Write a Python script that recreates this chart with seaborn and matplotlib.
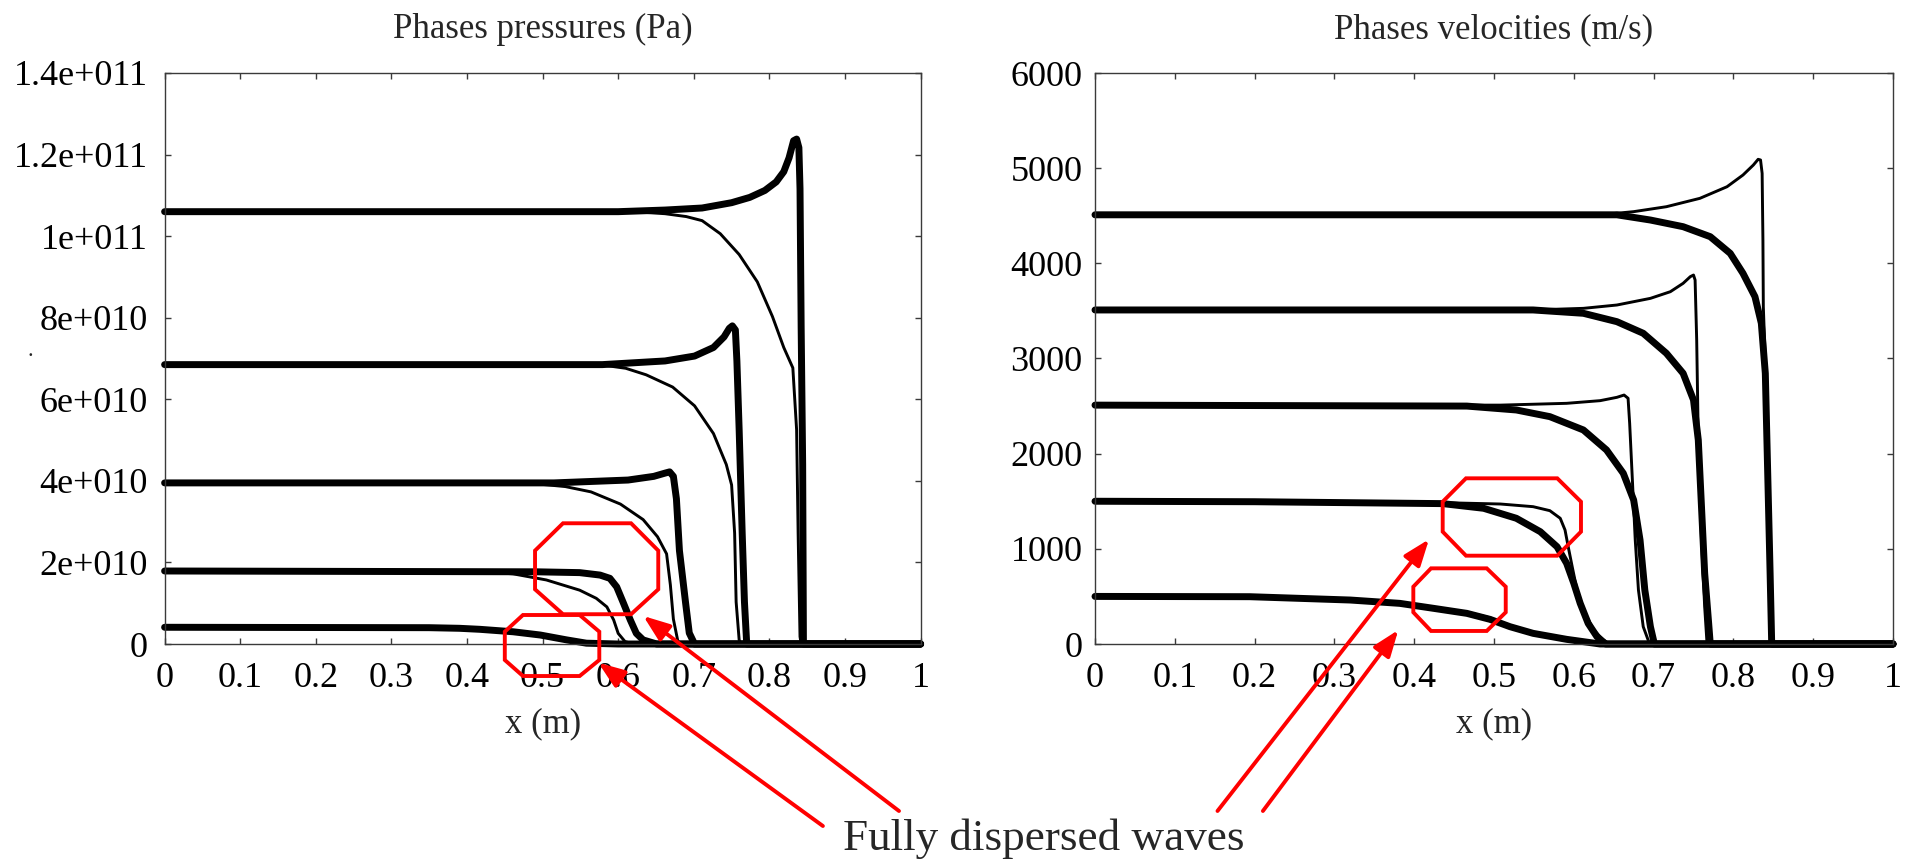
import numpy as np
import pandas as pd
import matplotlib
matplotlib.use("Agg")
import matplotlib.pyplot as plt
import seaborn as sns
from matplotlib.patches import Polygon, FancyArrowPatch

# ---------------- data ----------------
x_ticks = [0, 0.1, 0.2, 0.3, 0.4, 0.5, 0.6, 0.7, 0.8, 0.9, 1.0]
x_tick_labels = ["0", "0.1", "0.2", "0.3", "0.4", "0.5", "0.6", "0.7", "0.8", "0.9", "1"]
p_ticks = [0, 2e10, 4e10, 6e10, 8e10, 1e11, 1.2e11, 1.4e11]
p_tick_labels = ["0", "2e+010", "4e+010", "6e+010", "8e+010", "1e+011", "1.2e+011", "1.4e+011"]
v_ticks = [0, 1000, 2000, 3000, 4000, 5000, 6000]
v_tick_labels = ["0", "1000", "2000", "3000", "4000", "5000", "6000"]

# Pressures (Pa): thick = phase 1, thin = phase 2
p1_thick_x = [0, 0.60, 0.662, 0.711, 0.750, 0.774, 0.794, 0.809, 0.819, 0.826, 0.832, 0.836, 0.839, 0.8405, 0.842, 0.844, 0.845, 1.0]
p1_thick_y = [10.6e10, 10.6e10, 10.64e10, 10.69e10, 10.82e10, 10.95e10, 11.12e10, 11.33e10, 11.58e10, 11.92e10, 12.34e10, 12.38e10, 12.17e10, 11.16e10, 7.78e10, 4.40e10, 0, 0]
p1_thin_x = [0, 0.62, 0.662, 0.690, 0.711, 0.735, 0.760, 0.784, 0.804, 0.819, 0.831, 0.836, 0.838, 0.8405, 0.842]
p1_thin_y = [10.6e10, 10.6e10, 10.55e10, 10.48e10, 10.38e10, 10.06e10, 9.55e10, 8.88e10, 8.03e10, 7.27e10, 6.77e10, 5.25e10, 2.72e10, 0.18e10, 0]

p2_thick_x = [0, 0.579, 0.662, 0.701, 0.726, 0.740, 0.747, 0.751, 0.755, 0.757, 0.760, 0.764, 0.767, 0.770, 1.0]
p2_thick_y = [6.85e10, 6.85e10, 6.94e10, 7.06e10, 7.27e10, 7.53e10, 7.74e10, 7.80e10, 7.70e10, 6.94e10, 5.25e10, 2.72e10, 1.03e10, 0, 0]
p2_thin_x = [0, 0.579, 0.610, 0.637, 0.672, 0.701, 0.726, 0.743, 0.750, 0.754, 0.756, 0.760, 0.762]
p2_thin_y = [6.85e10, 6.84e10, 6.76e10, 6.60e10, 6.30e10, 5.84e10, 5.16e10, 4.40e10, 3.90e10, 2.72e10, 1.03e10, 0.1e10, 0]

p3_thick_x = [0, 0.515, 0.613, 0.647, 0.662, 0.668, 0.673, 0.677, 0.681, 0.689, 0.694, 0.701, 1.0]
p3_thick_y = [3.95e10, 3.95e10, 4.02e10, 4.11e10, 4.19e10, 4.22e10, 4.11e10, 3.56e10, 2.29e10, 1.03e10, 0.27e10, 0, 0]
p3_thin_x = [0, 0.49, 0.530, 0.564, 0.603, 0.633, 0.652, 0.664, 0.669, 0.673, 0.679, 0.685]
p3_thin_y = [3.95e10, 3.93e10, 3.86e10, 3.73e10, 3.43e10, 3.05e10, 2.63e10, 2.21e10, 1.45e10, 0.61e10, 0.06e10, 0]

p4_thick_x = [0, 0.492, 0.549, 0.576, 0.589, 0.598, 0.607, 0.616, 0.624, 0.633, 0.651, 1.0]
p4_thick_y = [1.79e10, 1.77e10, 1.75e10, 1.69e10, 1.61e10, 1.40e10, 1.00e10, 0.59e10, 0.26e10, 0.10e10, 0, 0]
p4_thin_x = [0, 0.39, 0.430, 0.461, 0.505, 0.549, 0.571, 0.585, 0.594, 0.600, 0.609, 0.62]
p4_thin_y = [1.79e10, 1.78e10, 1.76e10, 1.72e10, 1.57e10, 1.32e10, 1.12e10, 0.91e10, 0.59e10, 0.26e10, 0.06e10, 0]

p5_thick_x = [0, 0.35, 0.390, 0.417, 0.461, 0.497, 0.532, 0.558, 0.60, 1.0]
p5_thick_y = [0.41e10, 0.40e10, 0.385e10, 0.36e10, 0.30e10, 0.22e10, 0.10e10, 0.02e10, 0, 0]
p5_thin_x = [0, 0.35, 0.390, 0.417, 0.461, 0.497, 0.532, 0.56, 0.59]
p5_thin_y = [0.41e10, 0.40e10, 0.38e10, 0.35e10, 0.28e10, 0.19e10, 0.09e10, 0.02e10, 0]

# Velocities (m/s)
v1_thin_x = [0, 0.633, 0.675, 0.716, 0.758, 0.792, 0.812, 0.825, 0.831, 0.834, 0.836, 0.837, 0.8375, 0.842, 0.844, 0.846, 0.847]
v1_thin_y = [4510, 4510, 4543, 4595, 4683, 4805, 4928, 5033, 5093, 5086, 4946, 4245, 3544, 2494, 1443, 392, 0]
v1_thick_x = [0, 0.654, 0.696, 0.737, 0.771, 0.796, 0.812, 0.827, 0.835, 0.840, 0.843, 0.846, 0.848, 1.0]
v1_thick_y = [4510, 4510, 4455, 4385, 4280, 4105, 3895, 3650, 3370, 2844, 1794, 743, 0, 0]

v2_thin_x = [0, 0.549, 0.612, 0.654, 0.696, 0.721, 0.737, 0.746, 0.750, 0.752, 0.754, 0.756, 0.760, 0.764, 0.767]
v2_thin_y = [3510, 3510, 3527, 3562, 3632, 3702, 3790, 3860, 3877, 3825, 3195, 2144, 1093, 392, 0]
v2_thick_x = [0, 0.549, 0.612, 0.654, 0.687, 0.716, 0.737, 0.750, 0.756, 0.760, 0.764, 0.769, 0.771, 1.0]
v2_thick_y = [3510, 3510, 3475, 3387, 3265, 3055, 2844, 2564, 2144, 1443, 743, 217, 0, 0]

v3_thin_x = [0, 0.508, 0.591, 0.633, 0.654, 0.663, 0.668, 0.670, 0.673, 0.677, 0.681, 0.687, 0.695]
v3_thin_y = [2510, 2510, 2529, 2557, 2592, 2616, 2582, 2319, 1794, 1093, 567, 182, 0]
v3_thick_x = [0, 0.466, 0.528, 0.570, 0.612, 0.641, 0.662, 0.675, 0.683, 0.689, 0.696, 0.701, 1.0]
v3_thick_y = [2510, 2500, 2459, 2389, 2249, 2039, 1794, 1513, 1093, 567, 182, 0, 0]

v4_thin_x = [0, 0.2, 0.436, 0.508, 0.549, 0.570, 0.583, 0.589, 0.593, 0.598, 0.604, 0.612, 0.625, 0.637, 0.645]
v4_thin_y = [1500, 1495, 1485, 1471, 1443, 1401, 1321, 1198, 1022, 812, 567, 357, 147, 42, 0]
v4_thick_x = [0, 0.2, 0.436, 0.487, 0.528, 0.558, 0.579, 0.591, 0.600, 0.608, 0.618, 0.629, 0.64, 1.0]
v4_thick_y = [1500, 1495, 1475, 1426, 1321, 1180, 1022, 848, 638, 428, 217, 77, 0, 0]

v5_thick_x = [0, 0.194, 0.320, 0.382, 0.424, 0.466, 0.495, 0.520, 0.549, 0.591, 0.633, 1.0]
v5_thick_y = [500, 497, 462, 427, 375, 322, 259, 182, 112, 49, 0, 0]
v5_thin_x = [0, 0.194, 0.320, 0.382, 0.424, 0.466, 0.495, 0.520, 0.549, 0.591, 0.633]
v5_thin_y = [500, 497, 465, 432, 385, 335, 275, 195, 118, 52, 0]

# Highlight octagons: (x_outer_left, x_inner_left, x_inner_right, x_outer_right,
#                      y_top, y_side_top, y_side_bottom, y_bottom) in data units
oct_p_upper = (0.490, 0.527, 0.617, 0.653, 2.96e10, 2.29e10, 1.34e10, 0.73e10)
oct_p_lower = (0.450, 0.474, 0.549, 0.575, 0.711e10, 0.302e10, -0.392e10, -0.785e10)
oct_v_upper = (0.4357, 0.4649, 0.5793, 0.6090, 1741, 1495, 1180, 928)
oct_v_lower = (0.3989, 0.4211, 0.4909, 0.5147, 795, 602, 333, 137)

annotation_text = "Fully dispersed waves"

# ---------------- styling ----------------
sns.set_style("ticks")
plt.rcParams["font.family"] = ["Liberation Serif", "DejaVu Serif"]
plt.rcParams["axes.linewidth"] = 1.0

W, H = 1912, 863
fig = plt.figure(figsize=(W / 100, H / 100), dpi=100)
axL = fig.add_axes([164.6 / W, 1 - 644 / H, 756 / W, 571 / H])
axR = fig.add_axes([1095 / W, 1 - 644 / H, 798 / W, 571 / H])


def long_df(curves):
    rows = []
    for name, phase, xs, ys in curves:
        for i, (a, b) in enumerate(zip(xs, ys)):
            rows.append({"x": a, "y": b, "curve": name, "phase": phase, "order": i})
    return pd.DataFrame(rows)


p_df = long_df([
    ("p1a", "thin", p1_thin_x, p1_thin_y), ("p1b", "thick", p1_thick_x, p1_thick_y),
    ("p2a", "thin", p2_thin_x, p2_thin_y), ("p2b", "thick", p2_thick_x, p2_thick_y),
    ("p3a", "thin", p3_thin_x, p3_thin_y), ("p3b", "thick", p3_thick_x, p3_thick_y),
    ("p4a", "thin", p4_thin_x, p4_thin_y), ("p4b", "thick", p4_thick_x, p4_thick_y),
    ("p5a", "thin", p5_thin_x, p5_thin_y), ("p5b", "thick", p5_thick_x, p5_thick_y),
])
v_df = long_df([
    ("v1a", "thin", v1_thin_x, v1_thin_y), ("v1b", "thick", v1_thick_x, v1_thick_y),
    ("v2a", "thin", v2_thin_x, v2_thin_y), ("v2b", "thick", v2_thick_x, v2_thick_y),
    ("v3a", "thin", v3_thin_x, v3_thin_y), ("v3b", "thick", v3_thick_x, v3_thick_y),
    ("v4a", "thin", v4_thin_x, v4_thin_y), ("v4b", "thick", v4_thick_x, v4_thick_y),
    ("v5a", "thin", v5_thin_x, v5_thin_y), ("v5b", "thick", v5_thick_x, v5_thick_y),
])

line_sizes = {"thick": 5.0, "thin": 2.1}
for ax, df in ((axL, p_df), (axR, v_df)):
    sns.lineplot(data=df, x="x", y="y", units="curve", estimator=None, sort=False,
                 size="phase", sizes=line_sizes, color="black", legend=False, ax=ax,
                 solid_capstyle="round", solid_joinstyle="round", clip_on=False)

spine_col = "#3a3a3a"
for ax, title, yt, ytl, ylim, ypad in (
        (axL, "Phases pressures (Pa)", p_ticks, p_tick_labels, (0, 1.4e11), 12),
        (axR, "Phases velocities (m/s)", v_ticks, v_tick_labels, (0, 6000), 9)):
    ax.set_xlim(0, 1)
    ax.set_ylim(*ylim)
    ax.set_xticks(x_ticks)
    ax.set_xticklabels(x_tick_labels)
    ax.set_yticks(yt)
    ax.set_yticklabels(ytl)
    ax.tick_params(direction="in", length=4.5, width=1, color=spine_col,
                   top=True, right=True, labelsize=26, labelcolor="black")
    ax.tick_params(axis="x", pad=13)
    ax.tick_params(axis="y", pad=ypad)
    for sp in ax.spines.values():
        sp.set_color(spine_col)
        sp.set_linewidth(1.0)
    ax.set_title(title, fontsize=25, pad=25)
    ax.set_xlabel("x (m)", fontsize=25, labelpad=9)
    ax.set_ylabel("")
    ax.set_facecolor("white")


def octagon(ax, o):
    x0, x1, x2, x3, yt, ys1, ys2, yb = o
    pts = [(x1, yt), (x2, yt), (x3, ys1), (x3, ys2), (x2, yb), (x1, yb), (x0, ys2), (x0, ys1)]
    ax.add_patch(Polygon(pts, closed=True, fill=False, edgecolor="red", linewidth=2.8,
                         clip_on=False, joinstyle="miter", zorder=5))


octagon(axL, oct_p_upper)
octagon(axL, oct_p_lower)
octagon(axR, oct_v_upper)
octagon(axR, oct_v_lower)

# Arrows from the caption to the highlighted regions (figure pixel positions)
arrows_px = [((822.9, 826), (598.3, 662.7)),
             ((899, 811), (643.3, 616)),
             ((1217.5, 811), (1429, 539.3)),
             ((1262.9, 811), (1398.3, 630))]
for (tx, ty), (hx, hy) in arrows_px:
    arr = FancyArrowPatch((tx / W, 1 - ty / H), (hx / W, 1 - hy / H),
                          transform=fig.transFigure,
                          arrowstyle="-|>,head_length=0.8,head_width=0.3",
                          mutation_scale=20, color="red", linewidth=2.8,
                          shrinkA=0, shrinkB=0, zorder=6)
    fig.add_artist(arr)

fig.text(1044 / W, 1 - 850 / H, annotation_text, ha="center", va="baseline", fontsize=32.5)
fig.text(30.5 / W, 1 - 356 / H, ".", ha="center", va="baseline", fontsize=16)

fig.savefig("out.png", dpi=100, facecolor="white")
